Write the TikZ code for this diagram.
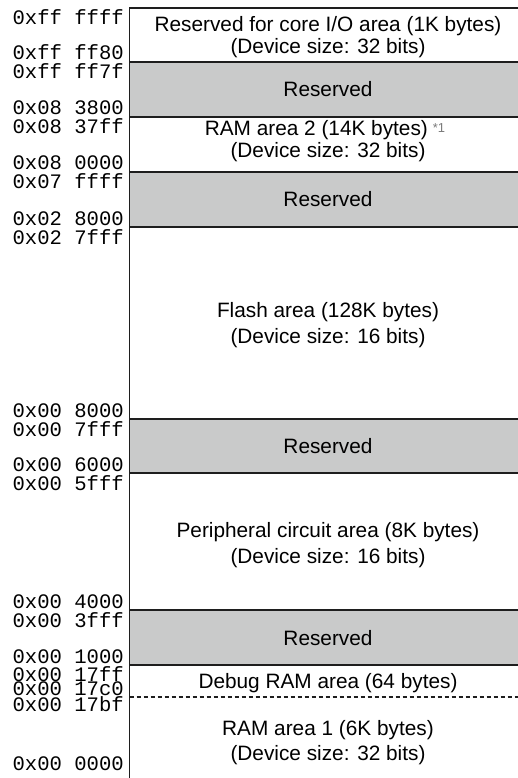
\documentclass[tikz,border=0pt]{standalone}
\usepackage{fontspec}
\setmainfont{Liberation Sans}
\setmonofont{Liberation Mono}
\definecolor{resgray}{HTML}{C9CACA}
\definecolor{rulecol}{HTML}{1E1E1E}
\definecolor{notecol}{HTML}{7A7A7A}
\newcommand{\addrfont}{\fontsize{20.6}{22}\ttfamily}
\newcommand{\areafont}{\fontsize{20.8}{22}\selectfont}
\begin{document}
\begin{tikzpicture}[x=1pt,y=-1pt,
  addr/.style={font=\addrfont, anchor=base east, inner sep=0pt},
  area/.style={font=\areafont, anchor=base, inner sep=0pt},
  rule/.style={draw=rulecol, line width=1.4pt},
  resv/.style={fill=resgray}]
\useasboundingbox (0,0) rectangle (518,778);

% reserved (gray) blocks
\foreach \t/\b in {62/117, 172/227, 419/473, 610/665}
  \fill[resv] (129.5,\t) rectangle (535,\b);

% block boundaries
\foreach \y in {8,62,117,172,227,419,473,610,665}
  \draw[rule] (129.5,\y) -- (535,\y);
\draw[rule, line width=1.1pt, dash pattern=on 4pt off 3pt] (129.5,697) -- (535,697);
\draw[rule] (129.5,7.3) -- (129.5,790);

% area descriptions
\node[area] (core1) at (328,32) {Reserved for core I/O area (1K bytes)};
\node[area] (core2) at (328,53.5) {(Device size: 32 bits)};
\node[area] (res1) at (328,96.7) {Reserved};
\node[area] (ram2a) at (325,136) {RAM area 2 (14K bytes)\hspace{5pt}{\fontsize{13}{13}\selectfont\color{notecol}\raisebox{3.5pt}{*1}}};
\node[area] (ram2b) at (328,158) {(Device size: 32 bits)};
\node[area] (res2) at (328,206.7) {Reserved};
\node[area] (flash1) at (328,317) {Flash area (128K bytes)};
\node[area] (flash2) at (328,343) {(Device size: 16 bits)};
\node[area] (res3) at (328,453) {Reserved};
\node[area] (peri1) at (328,537) {Peripheral circuit area (8K bytes)};
\node[area] (peri2) at (328,563) {(Device size: 16 bits)};
\node[area] (res4) at (328,645) {Reserved};
\node[area] (dbg) at (328,688) {Debug RAM area (64 bytes)};
\node[area] (ram1a) at (328,735) {RAM area 1 (6K bytes)};
\node[area] (ram1b) at (328,760) {(Device size: 32 bits)};

% address labels
\foreach \y/\txt [count=\i] in {
   25/0xff ffff, 60/0xff ff80, 79/0xff ff7f, 115/0x08 3800,
   134/0x08 37ff, 170/0x08 0000, 189/0x07 ffff, 225/0x02 8000,
   244/0x02 7fff, 417/0x00 8000, 436/0x00 7fff, 471/0x00 6000,
   490/0x00 5fff, 608/0x00 4000, 627/0x00 3fff, 663/0x00 1000,
   681/0x00 17ff, 695/0x00 17c0, 711/0x00 17bf, 770/0x00 0000}
  \node[addr] (a\i) at (124,\y) {\txt};
\end{tikzpicture}
\end{document}
